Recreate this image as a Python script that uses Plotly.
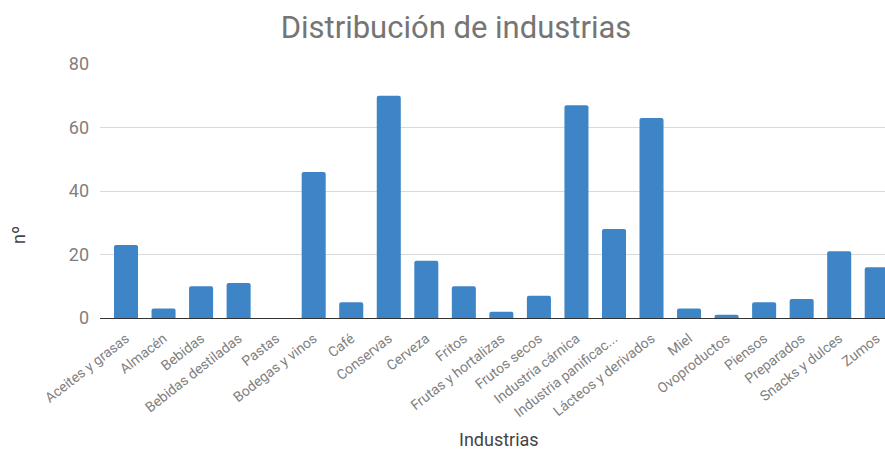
import plotly.graph_objects as go

categorias = ["Aceites y grasas", "Almacén", "Bebidas", "Bebidas destiladas", "Pastas",
              "Bodegas y vinos", "Café", "Conservas", "Cerveza", "Fritos",
              "Frutas y hortalizas", "Frutos secos", "Industria cárnica", "Industria panificac...",
              "Lácteos y derivados", "Miel", "Ovoproductos", "Piensos", "Preparados",
              "Snacks y dulces", "Zumos"]
valores = [23, 3, 10, 11, 0, 46, 5, 70, 18, 10, 2, 7, 67, 28, 63, 3, 1, 5, 6, 21, 16]
y_ticks = [0, 20, 40, 60, 80]

fig = go.Figure(go.Bar(x=list(range(len(categorias))), y=valores, marker_color="#3d85c6",
                       marker_line_width=0))
fig.update_layout(
    width=885, height=450,
    margin=dict(l=100, r=0, t=64, b=132),
    paper_bgcolor="white", plot_bgcolor="white",
    bargap=0.36, barcornerradius=2,
    font=dict(family="Roboto, Arial, sans-serif"),
    title=dict(text="Distribución de industrias", x=456/885, xanchor="center", y=0.94, yanchor="middle",
               font=dict(size=31, color="#757575", family="Roboto")),
    showlegend=False,
    annotations=[
        dict(text="Industrias", xref="paper", yref="paper", x=(499 - 100) / 785, y=-(439 - 318) / 254,
             xanchor="center", yanchor="middle", showarrow=False,
             font=dict(size=18, color="#444444")),
        dict(text="nº", xref="paper", yref="paper", x=-(100 - 18) / 785, y=(318 - 235) / 254,
             xanchor="center", yanchor="middle", showarrow=False, textangle=-90,
             font=dict(size=18, color="#444444")),
    ],
)
fig.update_xaxes(tickmode="array", tickvals=list(range(len(categorias))), ticktext=categorias,
                 tickangle=-38, tickfont=dict(size=14, color="#808080"), ticklabelstandoff=6,
                 range=[-0.693, 20.22], showgrid=False, showline=True, linecolor="#333333", linewidth=1,
                 ticks="")
fig.update_yaxes(range=[0, 80], tickvals=y_ticks, tickfont=dict(size=18, color="#808080"),
                 showgrid=True, gridcolor="#d9d9d9", zeroline=True, zerolinecolor="#333333",
                 zerolinewidth=1, ticklabelstandoff=10)
fig.write_html("out.html")
